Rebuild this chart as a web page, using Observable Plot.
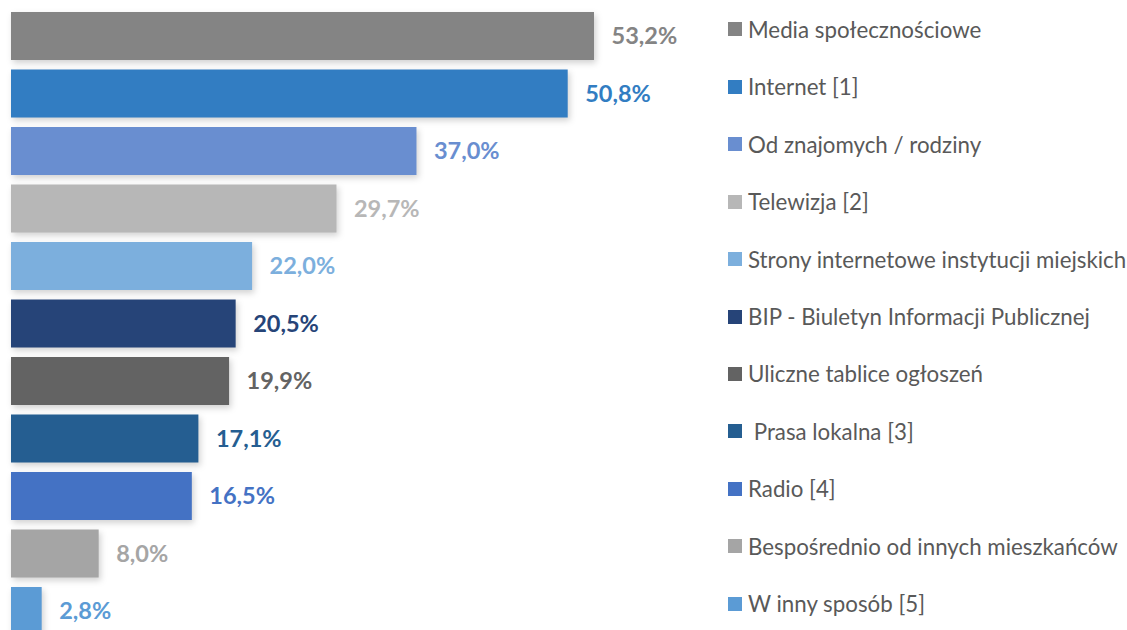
<!DOCTYPE html>
<html><head><meta charset="utf-8">
<script src="https://cdn.jsdelivr.net/npm/d3@7"></script>
<script src="https://cdn.jsdelivr.net/npm/@observablehq/plot@0.6"></script>
<style>
html,body{margin:0;padding:0;background:#fff;overflow:hidden;width:1127px;height:630px;}
#wrap{position:relative;width:1127px;height:630px;}
#wrap svg g[aria-label="bar"] rect{filter:drop-shadow(2px 3px 3px rgba(0,0,0,0.18));}
.leg{position:absolute;left:728px;display:flex;align-items:center;font-family:Lato,"Open Sans",sans-serif;font-size:22.3px;color:#595959;white-space:nowrap;}
.leg span.sw{display:inline-block;width:14px;height:14px;margin-right:6px;}
</style></head>
<body><div id="wrap"></div>
<script>
const categories = ["Media społecznościowe","Internet [1]","Od znajomych / rodziny","Telewizja [2]","Strony internetowe instytucji miejskich","BIP - Biuletyn Informacji Publicznej","Uliczne tablice ogłoszeń"," Prasa lokalna [3]","Radio [4]","Bespośrednio od innych mieszkańców","W inny sposób [5]"];
const values = [53.2,50.8,37.0,29.7,22.0,20.5,19.9,17.1,16.5,8.0,2.8];
const colors = ["#848484","#327dc2","#698ed0","#b7b7b7","#7cafdd","#264478","#636363","#255e91","#4472c4","#a5a5a5","#5b9bd5"];

const data = categories.map((c,i)=>({cat:c, value:values[i], color:colors[i]}));
const fmt = v => v.toFixed(1).replace(".", ",") + "%";

const plot = Plot.plot({
  width: 1127, height: 630,
  margin: 0,
  x: {domain:[0,53.2], range:[11,594], axis:null},
  y: {domain:categories, range:[12,635], paddingInner:0.165, paddingOuter:0, round:false, axis:null},
  style:{background:"transparent", overflow:"visible"},
  marks:[
    Plot.barX(data,{x:"value", y:"cat", fill:"color"}),
    Plot.text(data,{x:"value", y:"cat", text:d=>fmt(d.value), fill:"color", dx:17, textAnchor:"start", fontSize:23.5, fontWeight:"bold", fontFamily:"Lato, 'Open Sans', sans-serif"})
  ]
});
const wrap = document.getElementById("wrap");
wrap.appendChild(plot);
const ys = plot.scale("y");
data.forEach(d=>{
  const el = document.createElement("div");
  el.className="leg";
  const cy = ys.apply(d.cat) + ys.bandwidth/2 - 7;
  el.style.top = (cy - 13) + "px";
  el.style.height = "26px";
  el.innerHTML = `<span class="sw" style="background:${d.color}"></span><span style="white-space:pre">${d.cat}</span>`;
  wrap.appendChild(el);
});
</script></body></html>
